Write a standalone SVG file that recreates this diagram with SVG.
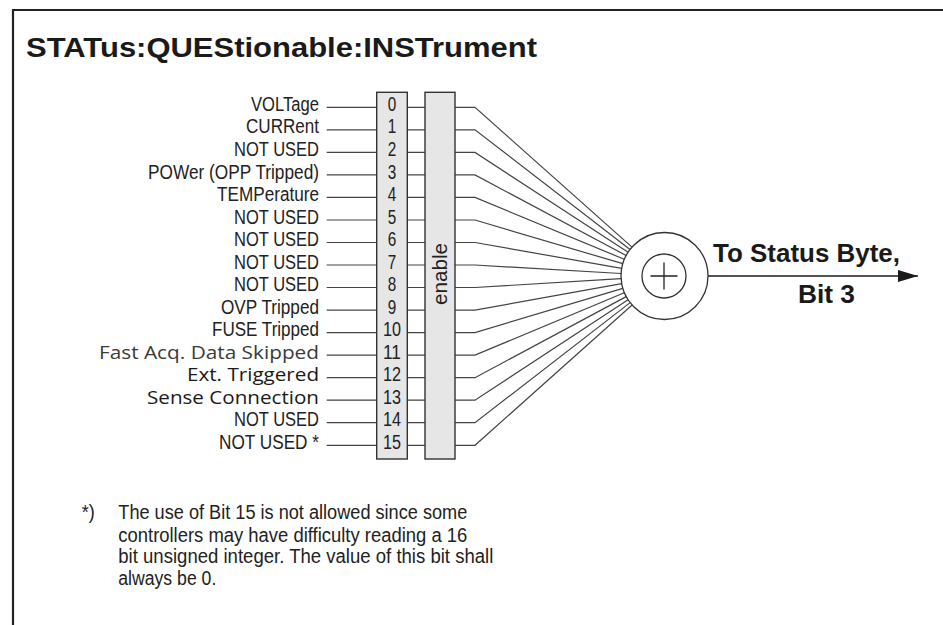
<svg xmlns="http://www.w3.org/2000/svg" width="943" height="625" viewBox="0 0 943 625">
<defs>
<style>
.frame{fill:none;stroke:#222;stroke-width:2.2}
.title{font-family:"Liberation Sans",Arial,sans-serif;font-weight:bold;font-size:28px;fill:#1a1a1a}
.lbl{font-family:"Liberation Sans",Arial,sans-serif;font-size:20px;fill:#222;text-anchor:end}
.lbl2{font-family:"Open Sans","Liberation Sans",sans-serif;font-size:18.5px;fill:#1a1a1a;text-anchor:end}
.lbl3{font-family:"Open Sans","Liberation Sans",sans-serif;font-size:18.5px;fill:#3a3a3a;text-anchor:end}
.num{font-family:"Liberation Sans",Arial,sans-serif;font-size:20px;fill:#222;text-anchor:middle}
.box{fill:#e6e6e6;stroke:#333;stroke-width:1.4}
.ln{fill:none;stroke:#444;stroke-width:1.2}
.circ{fill:#fff;stroke:#333;stroke-width:1.3}
.out{font-family:"Liberation Sans",Arial,sans-serif;font-weight:bold;font-size:25px;fill:#1a1a1a}
.note{font-family:"Liberation Sans",Arial,sans-serif;font-size:20px;fill:#222}
</style>
<marker id="arr" viewBox="0 0 20 12" refX="20" refY="6" markerWidth="20" markerHeight="12" markerUnits="userSpaceOnUse" orient="auto">
<path d="M0,0 L20,6 L0,12 Z" fill="#1a1a1a"/>
</marker>
</defs>
<rect x="0" y="0" width="943" height="625" fill="#fff"/>
<path class="frame" d="M13,625 V10 H943"/>
<text class="title" x="26" y="57" textLength="511" lengthAdjust="spacingAndGlyphs">STATus:QUEStionable:INSTrument</text>

<g id="labels">
<text class="lbl" x="319" y="110.9" textLength="68" lengthAdjust="spacingAndGlyphs">VOLTage</text>
<text class="lbl" x="319" y="133.4" textLength="73" lengthAdjust="spacingAndGlyphs">CURRent</text>
<text class="lbl" x="319" y="156.0" textLength="85" lengthAdjust="spacingAndGlyphs">NOT USED</text>
<text class="lbl" x="319" y="178.5" textLength="171" lengthAdjust="spacingAndGlyphs">POWer (OPP Tripped)</text>
<text class="lbl" x="319" y="201.0" textLength="102" lengthAdjust="spacingAndGlyphs">TEMPerature</text>
<text class="lbl" x="319" y="223.6" textLength="85" lengthAdjust="spacingAndGlyphs">NOT USED</text>
<text class="lbl" x="319" y="246.1" textLength="85" lengthAdjust="spacingAndGlyphs">NOT USED</text>
<text class="lbl" x="319" y="268.6" textLength="85" lengthAdjust="spacingAndGlyphs">NOT USED</text>
<text class="lbl" x="319" y="291.1" textLength="85" lengthAdjust="spacingAndGlyphs">NOT USED</text>
<text class="lbl" x="319" y="313.7" textLength="98" lengthAdjust="spacingAndGlyphs">OVP Tripped</text>
<text class="lbl" x="319" y="336.2" textLength="107" lengthAdjust="spacingAndGlyphs">FUSE Tripped</text>
<text class="lbl3" x="319" y="358.7" textLength="220" lengthAdjust="spacingAndGlyphs">Fast Acq. Data Skipped</text>
<text class="lbl2" x="319" y="381.3" textLength="132" lengthAdjust="spacingAndGlyphs">Ext. Triggered</text>
<text class="lbl2" x="319" y="403.8" textLength="172" lengthAdjust="spacingAndGlyphs">Sense Connection</text>
<text class="lbl" x="319" y="426.3" textLength="85" lengthAdjust="spacingAndGlyphs">NOT USED</text>
<text class="lbl" x="319" y="448.9" textLength="100" lengthAdjust="spacingAndGlyphs">NOT USED *</text>
</g>

<g id="connectors">
<path class="ln" d="M326.7,107.3H376.7 M326.7,129.8H376.7 M326.7,152.4H376.7 M326.7,174.9H376.7 M326.7,197.4H376.7 M326.7,220.0H376.7 M326.7,242.5H376.7 M326.7,265.0H376.7 M326.7,287.5H376.7 M326.7,310.1H376.7 M326.7,332.6H376.7 M326.7,355.1H376.7 M326.7,377.7H376.7 M326.7,400.2H376.7 M326.7,422.7H376.7 M326.7,445.3H376.7"/>
<path class="ln" d="M407.3,107.3H425 M407.3,129.8H425 M407.3,152.4H425 M407.3,174.9H425 M407.3,197.4H425 M407.3,220.0H425 M407.3,242.5H425 M407.3,265.0H425 M407.3,287.5H425 M407.3,310.1H425 M407.3,332.6H425 M407.3,355.1H425 M407.3,377.7H425 M407.3,400.2H425 M407.3,422.7H425 M407.3,445.3H425"/>
<path class="ln" d="M455,107.3H475L632.0,247.1 M455,129.8H475L630.0,249.4 M455,152.4H475L628.1,252.2 M455,174.9H475L626.1,255.5 M455,197.4H475L624.3,259.3 M455,220.0H475L622.8,263.7 M455,242.5H475L621.7,268.4 M455,265.0H475L621.1,273.5 M455,287.5H475L621.1,278.6 M455,310.1H475L621.7,283.7 M455,332.6H475L622.8,288.4 M455,355.1H475L624.3,292.8 M455,377.7H475L626.2,296.6 M455,400.2H475L628.1,299.8 M455,422.7H475L630.1,302.6 M455,445.3H475L632.1,305.0"/>
<path d="M708,276 H918" fill="none" stroke="#1a1a1a" stroke-width="1.5" marker-end="url(#arr)"/>
</g>

<g id="bits">
<rect class="box" x="376.7" y="92.3" width="30.6" height="366.7"/>
<text class="num" x="392" y="110.9" textLength="8.5" lengthAdjust="spacingAndGlyphs">0</text>
<text class="num" x="392" y="133.4" textLength="8.5" lengthAdjust="spacingAndGlyphs">1</text>
<text class="num" x="392" y="156.0" textLength="8.5" lengthAdjust="spacingAndGlyphs">2</text>
<text class="num" x="392" y="178.5" textLength="8.5" lengthAdjust="spacingAndGlyphs">3</text>
<text class="num" x="392" y="201.0" textLength="8.5" lengthAdjust="spacingAndGlyphs">4</text>
<text class="num" x="392" y="223.6" textLength="8.5" lengthAdjust="spacingAndGlyphs">5</text>
<text class="num" x="392" y="246.1" textLength="8.5" lengthAdjust="spacingAndGlyphs">6</text>
<text class="num" x="392" y="268.6" textLength="8.5" lengthAdjust="spacingAndGlyphs">7</text>
<text class="num" x="392" y="291.1" textLength="8.5" lengthAdjust="spacingAndGlyphs">8</text>
<text class="num" x="392" y="313.7" textLength="8.5" lengthAdjust="spacingAndGlyphs">9</text>
<text class="num" x="392" y="336.2" textLength="18" lengthAdjust="spacingAndGlyphs">10</text>
<text class="num" x="392" y="358.7" textLength="18" lengthAdjust="spacingAndGlyphs">11</text>
<text class="num" x="392" y="381.3" textLength="18" lengthAdjust="spacingAndGlyphs">12</text>
<text class="num" x="392" y="403.8" textLength="18" lengthAdjust="spacingAndGlyphs">13</text>
<text class="num" x="392" y="426.3" textLength="18" lengthAdjust="spacingAndGlyphs">14</text>
<text class="num" x="392" y="448.9" textLength="18" lengthAdjust="spacingAndGlyphs">15</text>
</g>

<g id="enable">
<rect class="box" x="425" y="92.3" width="30" height="366.7"/>
<text class="num" transform="translate(446.5,274) rotate(-90)" textLength="62" lengthAdjust="spacingAndGlyphs">enable</text>
</g>

<g id="sum">
<circle class="circ" cx="664.5" cy="276" r="43.5"/>
<circle class="circ" cx="664" cy="276" r="22"/>
<path d="M650.5,276 H677.5 M664,262.5 V289.5" fill="none" stroke="#222" stroke-width="1.3"/>
</g>

<g id="output">
<text class="out" x="713" y="261.7" textLength="187" lengthAdjust="spacingAndGlyphs">To Status Byte,</text>
<text class="out" x="798" y="303" textLength="57" lengthAdjust="spacingAndGlyphs">Bit 3</text>
</g>

<g id="footnote">
<text class="note" x="81.7" y="519.3" textLength="13" lengthAdjust="spacingAndGlyphs">*)</text>
<text class="note" x="118.3" y="519.3" textLength="349" lengthAdjust="spacingAndGlyphs">The use of Bit 15 is not allowed since some</text>
<text class="note" x="118.3" y="541.7" textLength="349" lengthAdjust="spacingAndGlyphs">controllers may have difficulty reading a 16</text>
<text class="note" x="118.3" y="563.3" textLength="375" lengthAdjust="spacingAndGlyphs">bit unsigned integer. The value of this bit shall</text>
<text class="note" x="118.3" y="585" textLength="98" lengthAdjust="spacingAndGlyphs">always be 0.</text>
</g>
</svg>
